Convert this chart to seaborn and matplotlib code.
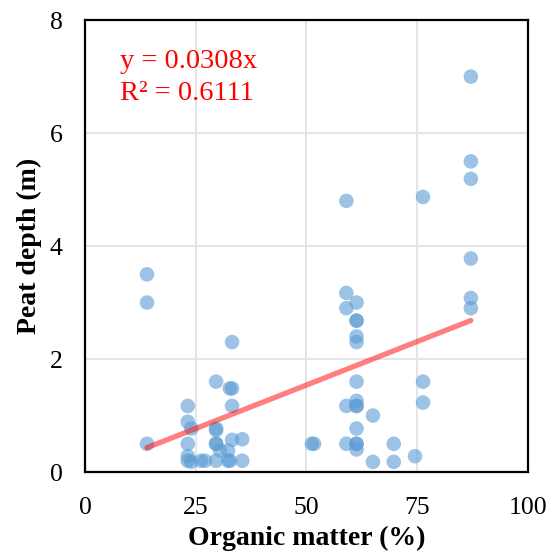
import matplotlib
matplotlib.use("Agg")
import matplotlib.pyplot as plt
import seaborn as sns
import pandas as pd
import numpy as np

# Organic matter (%) and peat depth (m) for each sample
organic_matter = [
    14.0, 14.0, 14.0,
    23.2, 23.2, 23.2, 23.2, 23.2,
    24.0, 24.0,
    26.2, 27.1,
    29.6, 29.6, 29.6, 29.6, 29.6, 29.6,
    30.5,
    32.3, 32.3,
    32.7, 32.7,
    33.2, 33.2, 33.2, 33.2,
    35.5, 35.5,
    51.2, 51.7,
    59.0, 59.0, 59.0, 59.0, 59.0,
    61.3, 61.3, 61.3, 61.3, 61.3, 61.3, 61.3, 61.3, 61.3, 61.3, 61.3, 61.3, 61.3,
    65.0, 65.0,
    69.7, 69.7,
    74.5,
    76.3, 76.3, 76.3,
    87.1, 87.1, 87.1, 87.1, 87.1, 87.1,
]
peat_depth = [
    3.5, 3.0, 0.5,
    1.17, 0.89, 0.5, 0.28, 0.2,
    0.77, 0.18,
    0.2, 0.2,
    1.6, 0.77, 0.74, 0.5, 0.5, 0.2,
    0.38,
    0.2, 0.38,
    1.48, 0.2,
    1.48, 1.17, 2.3, 0.57,
    0.2, 0.58,
    0.5, 0.5,
    4.8, 3.17, 2.9, 1.17, 0.5,
    3.0, 2.68, 2.68, 2.4, 2.3, 1.6, 1.26, 1.17, 1.17, 0.77, 0.5, 0.5, 0.4,
    1.0, 0.18,
    0.5, 0.18,
    0.28,
    4.87, 1.6, 1.23,
    7.0, 5.5, 5.19, 3.78, 3.08, 2.9,
]

# Linear trend through the origin
slope = 0.0308
r_squared = 0.6111

x_ticks = [0, 25, 50, 75, 100]
y_ticks = [0, 2, 4, 6, 8]

df = pd.DataFrame({"om": organic_matter, "depth": peat_depth})

sns.set_style("white")
plt.rcParams["font.family"] = ["Liberation Serif", "DejaVu Serif"]
plt.rcParams["text.color"] = "black"
plt.rcParams["axes.labelcolor"] = "black"
plt.rcParams["xtick.color"] = "black"
plt.rcParams["ytick.color"] = "black"

fig = plt.figure(figsize=(5.5, 5.59), dpi=100)
ax = fig.add_axes([0.1545, 0.1556, 0.8055, 0.8084])

ax.grid(True, color="#e3e3e3", linewidth=1.3, zorder=0)
ax.set_axisbelow(True)

sns.scatterplot(data=df, x="om", y="depth", ax=ax, color="#5B9BD5",
                alpha=0.6, s=110, edgecolor="none", zorder=3, legend=False)

x_line = np.array([min(organic_matter), max(organic_matter)])
ax.plot(x_line, slope * x_line, color="#FF0000", alpha=0.5,
        linewidth=3.8, solid_capstyle="round", zorder=4)

ax.text(0.079, 0.894, f"y = {slope:.4f}x", transform=ax.transAxes,
        color="#FF0000", fontsize=20.5, va="baseline", ha="left")
ax.text(0.079, 0.823, f"R² = {r_squared:.4f}", transform=ax.transAxes,
        color="#FF0000", fontsize=20.5, va="baseline", ha="left")

ax.set_xlim(0, 100)
ax.set_ylim(0, 8)
ax.set_xticks(x_ticks)
ax.set_yticks(y_ticks)
ax.tick_params(axis="both", length=0, labelsize=18.5, labelcolor="black")
ax.tick_params(axis="x", pad=18)
ax.tick_params(axis="y", pad=16)

for side in ["left", "right", "top", "bottom"]:
    ax.spines[side].set_visible(True)
    ax.spines[side].set_color("black")
    ax.spines[side].set_linewidth(1.6)

ax.set_xlabel("Organic matter (%)", fontsize=20, fontweight="bold",
              labelpad=5, color="black")
ax.set_ylabel("Peat depth (m)", fontsize=20, fontweight="bold",
              labelpad=6, color="black")

fig.savefig("out.png", dpi=100)
